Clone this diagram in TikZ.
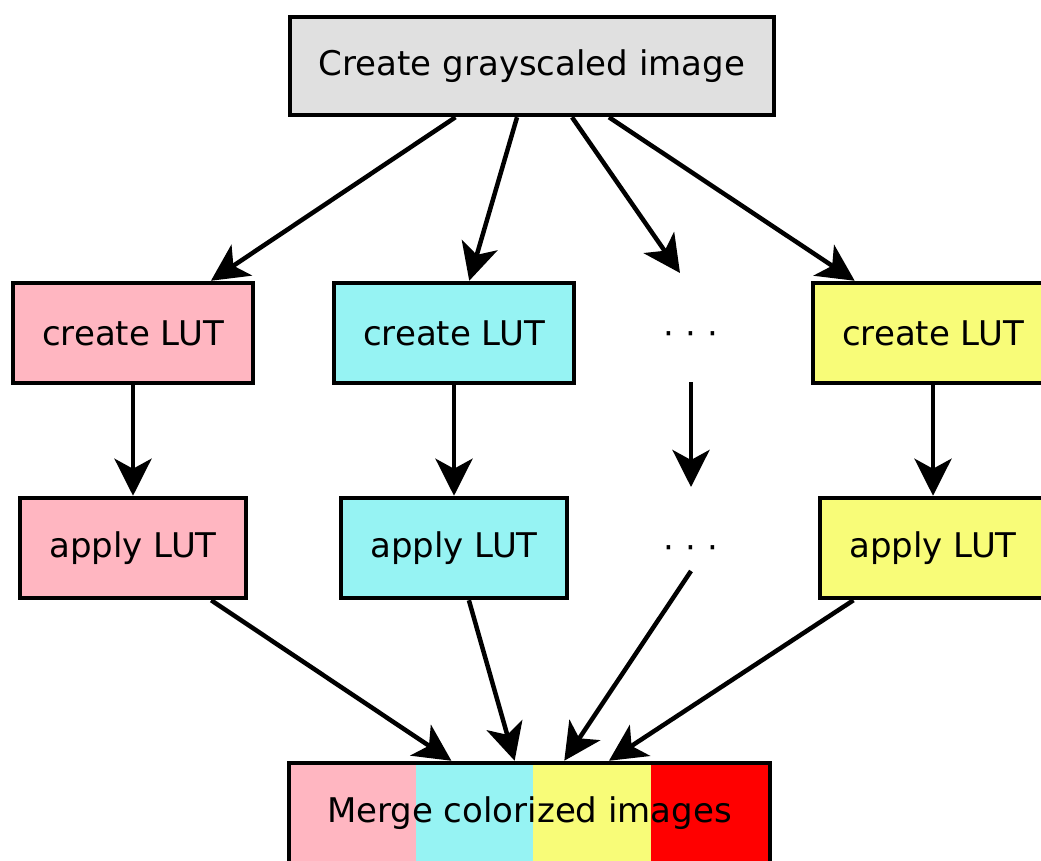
\documentclass[tikz,border=0pt]{standalone}
\usepackage{fontspec}
\setmainfont{DejaVu Sans}
\usetikzlibrary{arrows.meta}
\definecolor{pinkc}{HTML}{FFB6C1}
\definecolor{cyanc}{HTML}{96F3F3}
\definecolor{yellowc}{HTML}{F8FC78}
\definecolor{grayc}{HTML}{E0E0E0}
\definecolor{redc}{HTML}{FF0000}
\begin{document}
\begin{tikzpicture}[x=1pt,y=-1pt,
  box/.style={draw=black, line width=4.5pt, inner sep=0pt, text=black, font=\fontsize{34}{40}\selectfont},
  createbox/.style={box, minimum width=240pt, minimum height=100pt},
  applybox/.style={box, minimum width=226pt, minimum height=100pt},
  dotsnode/.style={inner sep=0pt, font=\fontsize{34}{40}\selectfont},
  arr/.style={-{Stealth[length=37pt,width=37pt,inset=10pt]}, line width=4.5pt}
]
\useasboundingbox (0,0) rectangle (1041,861);

\node[box, fill=grayc, minimum width=484pt, minimum height=98pt] (top) at (532,66) {Create grayscaled image};

\node[createbox, fill=pinkc]   (c1) at (133,333) {create LUT};
\node[createbox, fill=cyanc]   (c2) at (454,333) {create LUT};
\node[dotsnode]                (d1) at (691,339) {·\,\,·\,\,·};
\node[createbox, fill=yellowc] (c4) at (933,333) {create LUT};

\node[applybox, fill=pinkc]   (a1) at (133,548) {apply LUT};
\node[applybox, fill=cyanc]   (a2) at (454,548) {apply LUT};
\node[dotsnode]               (d2) at (691,553) {·\,\,·\,\,·};
\node[applybox, fill=yellowc] (a4) at (933,548) {apply LUT};

\node[box, minimum width=481pt, minimum height=100pt,
  path picture={
    \fill[pinkc]   (path picture bounding box.north west) rectangle ([xshift=127pt]path picture bounding box.south west);
    \fill[cyanc]   ([xshift=127pt]path picture bounding box.north west) rectangle ([xshift=244pt]path picture bounding box.south west);
    \fill[yellowc] ([xshift=244pt]path picture bounding box.north west) rectangle ([xshift=362pt]path picture bounding box.south west);
    \fill[redc]    ([xshift=362pt]path picture bounding box.north west) rectangle (path picture bounding box.south east);
  }] (merge) at (529.5,813) {Merge colorized images};

\draw[arr] (top) -- (c1);
\draw[arr] (top) -- (c2);
\draw[arr] ([xshift=40pt]top.south) -- ([xshift=-11pt,yshift=66pt]d1.center);
\draw[arr] (top) -- (c4);

\draw[arr] (c1) -- (a1);
\draw[arr] (c2) -- (a2);
\draw[arr, shorten <=43pt, shorten >=66pt] (d1.center) -- (d2.center);
\draw[arr] (c4) -- (a4);

\draw[arr] (a1) -- (merge);
\draw[arr] (a2) -- (merge);
\draw[arr] ([yshift=-18pt]d2.center) -- (merge);
\draw[arr] (a4) -- (merge);
\end{tikzpicture}
\end{document}
